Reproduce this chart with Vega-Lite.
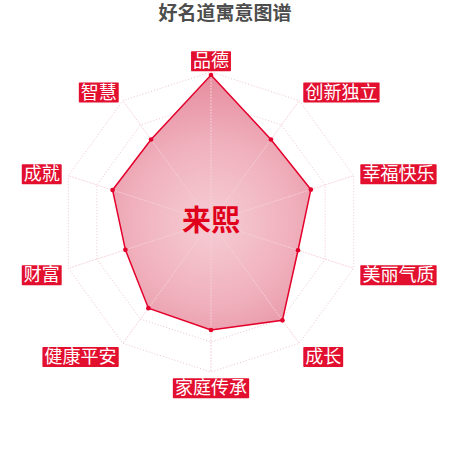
{
  "$schema": "https://vega.github.io/schema/vega-lite/v6.json",
  "width": 450,
  "height": 450,
  "padding": 0,
  "autosize": {"type": "none"},
  "background": "white",
  "title": {
    "text": "好名道寓意图谱",
    "orient": "top",
    "anchor": "middle",
    "frame": "group",
    "baseline": "top",
    "offset": -24,
    "fontSize": 19,
    "fontWeight": "bold",
    "font": "Noto Sans CJK SC",
    "color": "#4d4d4d"
  },
  "config": {"view": {"stroke": null}},
  "datasets": {
    "scores": [
      {"dim": "品德", "value": 98},
      {"dim": "创新独立", "value": 68},
      {"dim": "幸福快乐", "value": 70},
      {"dim": "美丽气质", "value": 61},
      {"dim": "成长", "value": 81},
      {"dim": "家庭传承", "value": 72},
      {"dim": "健康平安", "value": 71},
      {"dim": "财富", "value": 60},
      {"dim": "成就", "value": 69},
      {"dim": "智慧", "value": 68}
    ]
  },
  "data": {"name": "scores"},
  "transform": [
    {"window": [{"op": "row_number", "as": "idx"}]},
    {"calculate": "(datum.idx - 1) * PI / 5", "as": "theta"},
    {"calculate": "sin(datum.theta)", "as": "s"},
    {"calculate": "cos(datum.theta)", "as": "c"},
    {"calculate": "datum.value * 1.5 * datum.s", "as": "px"},
    {"calculate": "datum.value * 1.5 * datum.c", "as": "py"},
    {"calculate": "150 * datum.s", "as": "ex"},
    {"calculate": "150 * datum.c", "as": "ey"},
    {"calculate": "0", "as": "zero"}
  ],
  "layer": [
    {
      "transform": [
        {"calculate": "[20, 40, 60, 80, 100]", "as": "levels"},
        {"flatten": ["levels"]},
        {"calculate": "datum.levels * 1.5 * datum.s", "as": "gx"},
        {"calculate": "datum.levels * 1.5 * datum.c", "as": "gy"}
      ],
      "mark": {"type": "line", "interpolate": "linear-closed", "stroke": "#ecc6cd", "strokeWidth": 1, "strokeDash": [1, 2]},
      "encoding": {
        "x": {"field": "gx", "type": "quantitative", "scale": {"domain": [-211, 239], "nice": false, "zero": false}, "axis": null},
        "y": {"field": "gy", "type": "quantitative", "scale": {"domain": [-228, 222], "nice": false, "zero": false}, "axis": null},
        "detail": {"field": "levels", "type": "nominal"},
        "order": {"field": "idx", "type": "quantitative"}
      }
    },
    {
      "mark": {
        "type": "line",
        "interpolate": "linear-closed",
        "stroke": "#e4002b",
        "strokeWidth": 1.5,
        "fill": {
          "gradient": "radial",
          "x1": 0.5, "y1": 0.58, "r1": 0,
          "x2": 0.5, "y2": 0.58, "r2": 0.62,
          "stops": [
            {"offset": 0, "color": "#f6cdd5"},
            {"offset": 0.5, "color": "#f0b1bd"},
            {"offset": 1, "color": "#e5879a"}
          ]
        }
      },
      "encoding": {
        "x": {"field": "px", "type": "quantitative"},
        "y": {"field": "py", "type": "quantitative"},
        "order": {"field": "idx", "type": "quantitative"}
      }
    },
    {
      "mark": {"type": "rule", "stroke": "#f6d0d7", "strokeWidth": 1, "strokeDash": [2, 1], "opacity": 0.9},
      "encoding": {
        "x": {"field": "zero", "type": "quantitative"},
        "y": {"field": "zero", "type": "quantitative"},
        "x2": {"field": "ex"},
        "y2": {"field": "ey"}
      }
    },
    {
      "mark": {"type": "circle", "size": 22, "color": "#e4002b", "opacity": 1},
      "encoding": {
        "x": {"field": "px", "type": "quantitative"},
        "y": {"field": "py", "type": "quantitative"}
      }
    },
    {
      "transform": [
        {"calculate": "18.2 * length(datum.dim) + 3.5", "as": "w"},
        {"calculate": "abs(datum.s) < 0.01 ? -datum.w / 2 : (datum.s > 0 ? 157 * datum.s : 157 * datum.s - datum.w)", "as": "bx1"},
        {"calculate": "datum.bx1 + datum.w", "as": "bx2"},
        {"calculate": "163.4 * datum.c - 2.75", "as": "by"},
        {"calculate": "datum.by - 10", "as": "by1"},
        {"calculate": "datum.by + 10", "as": "by2"}
      ],
      "mark": {"type": "rect", "color": "#e20f2f", "cornerRadius": 1},
      "encoding": {
        "x": {"field": "bx1", "type": "quantitative"},
        "x2": {"field": "bx2"},
        "y": {"field": "by1", "type": "quantitative"},
        "y2": {"field": "by2"}
      }
    },
    {
      "transform": [
        {"calculate": "18.2 * length(datum.dim) + 3.5", "as": "w"},
        {"calculate": "abs(datum.s) < 0.01 ? 0 : (datum.s > 0 ? 157 * datum.s + datum.w / 2 : 157 * datum.s - datum.w / 2)", "as": "bxc"},
        {"calculate": "163.4 * datum.c - 2.75", "as": "by"}
      ],
      "mark": {"type": "text", "color": "white", "fontSize": 18, "font": "Noto Sans CJK SC", "align": "center", "baseline": "middle", "dy": 1},
      "encoding": {
        "x": {"field": "bxc", "type": "quantitative"},
        "y": {"field": "by", "type": "quantitative"},
        "text": {"field": "dim", "type": "nominal"}
      }
    },
    {
      "transform": [{"filter": "datum.idx == 1"}, {"calculate": "'来熙'", "as": "nm"}],
      "mark": {"type": "text", "color": "#e0001b", "fontSize": 29, "fontWeight": "bold", "font": "Noto Sans CJK SC", "align": "center", "baseline": "middle"},
      "encoding": {
        "x": {"field": "zero", "type": "quantitative"},
        "y": {"field": "zero", "type": "quantitative"},
        "text": {"field": "nm", "type": "nominal"}
      }
    }
  ]
}
